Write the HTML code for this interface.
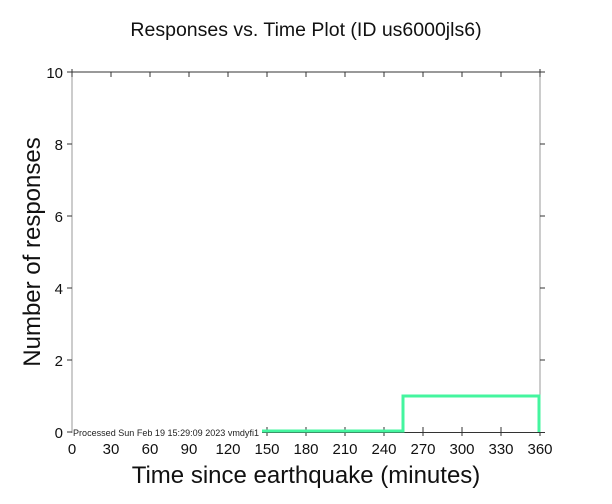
<!DOCTYPE html>
<html><head><style>
html,body{margin:0;padding:0;background:#fff;}
svg{display:block;font-family:"Liberation Sans",sans-serif;}
</style></head><body>
<svg width="612" height="504" viewBox="0 0 612 504" xmlns="http://www.w3.org/2000/svg">
<rect width="612" height="504" fill="#fff"/>
<text x="306" y="36" font-size="19.5" text-anchor="middle" fill="#111">Responses vs. Time Plot (ID us6000jls6)</text>
<line x1="72" y1="72" x2="72" y2="433" stroke="#999" stroke-width="1"/>
<line x1="540" y1="72" x2="540" y2="433" stroke="#999" stroke-width="1"/>
<line x1="72" y1="72" x2="545" y2="72" stroke="#333" stroke-width="1"/>
<line x1="262" y1="432.5" x2="545" y2="432.5" stroke="#333" stroke-width="1"/>
<g stroke="#333" stroke-width="1">
<line x1="111" y1="72" x2="111" y2="77"/><line x1="150" y1="72" x2="150" y2="77"/><line x1="189" y1="72" x2="189" y2="77"/><line x1="228" y1="72" x2="228" y2="77"/><line x1="267" y1="72" x2="267" y2="77"/><line x1="306" y1="72" x2="306" y2="77"/><line x1="345" y1="72" x2="345" y2="77"/><line x1="384" y1="72" x2="384" y2="77"/><line x1="423" y1="72" x2="423" y2="77"/><line x1="462" y1="72" x2="462" y2="77"/><line x1="501" y1="72" x2="501" y2="77"/><line x1="540" y1="69" x2="540" y2="77"/><line x1="72" y1="69" x2="72" y2="77"/>
<line x1="306" y1="427" x2="306" y2="436"/><line x1="345" y1="427" x2="345" y2="436"/><line x1="384" y1="427" x2="384" y2="436"/><line x1="423" y1="427" x2="423" y2="436"/><line x1="462" y1="427" x2="462" y2="436"/><line x1="501" y1="427" x2="501" y2="436"/><line x1="540" y1="427" x2="540" y2="436"/><line x1="267" y1="427" x2="267" y2="436"/>
<line x1="67" y1="72" x2="72" y2="72"/><line x1="67" y1="144" x2="72" y2="144"/><line x1="67" y1="216" x2="72" y2="216"/><line x1="67" y1="288" x2="72" y2="288"/><line x1="67" y1="360" x2="72" y2="360"/><line x1="67" y1="432" x2="72" y2="432"/>
<line x1="540" y1="144" x2="545" y2="144"/><line x1="540" y1="216" x2="545" y2="216"/><line x1="540" y1="288" x2="545" y2="288"/><line x1="540" y1="360" x2="545" y2="360"/>
</g>
<g font-size="15" fill="#111" text-anchor="end">
<text x="63" y="78">10</text><text x="63" y="150">8</text><text x="63" y="222">6</text><text x="63" y="294">4</text><text x="63" y="366">2</text><text x="63" y="438">0</text>
</g>
<g font-size="15" fill="#111" text-anchor="middle">
<text x="72" y="454">0</text><text x="111" y="454">30</text><text x="150" y="454">60</text><text x="189" y="454">90</text><text x="228" y="454">120</text><text x="267" y="454">150</text><text x="306" y="454">180</text><text x="345" y="454">210</text><text x="384" y="454">240</text><text x="423" y="454">270</text><text x="462" y="454">300</text><text x="501" y="454">330</text><text x="540" y="454">360</text>
</g>
<text x="73" y="436" font-size="9.5" fill="#222" textLength="186" lengthAdjust="spacingAndGlyphs">Processed Sun Feb 19 15:29:09 2023 vmdyfi1</text>
<text x="306" y="483" font-size="24" text-anchor="middle" fill="#111">Time since earthquake (minutes)</text>
<text transform="translate(40,252) rotate(-90)" font-size="24" text-anchor="middle" fill="#111">Number of responses</text>
<polyline points="262,431 403,431 403,396 539,396 539,432" fill="none" stroke="#44f59f" stroke-width="3"/>
</svg>
</body></html>
